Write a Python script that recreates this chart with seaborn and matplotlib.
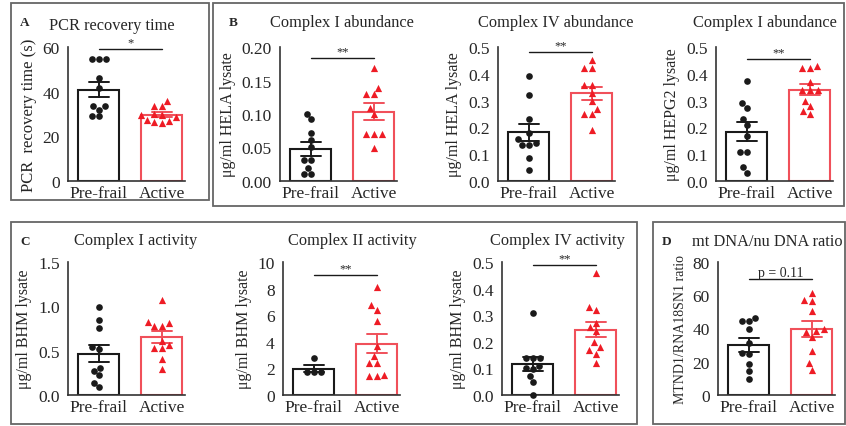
import numpy as np
import pandas as pd
import matplotlib
matplotlib.use("Agg")
import matplotlib.pyplot as plt
from matplotlib.patches import Rectangle
import seaborn as sns

# Values
groups = ["Pre-frail", "Active"]

a_pre = [54.7, 54.7, 54.7, 46.3, 41.8, 33.4, 33.4, 31.9, 28.9, 28.9]
a_act = [36.0, 33.5, 33.5, 30.0, 29.5, 29.5, 28.5, 27.5, 27.0, 26.0, 26.5]

b1_pre = [0.100, 0.092, 0.071, 0.061, 0.051, 0.031, 0.031, 0.020, 0.011, 0.011]
b1_act = [0.169, 0.139, 0.130, 0.130, 0.109, 0.100, 0.070, 0.070, 0.070, 0.050]

b2_pre = [0.39, 0.32, 0.23, 0.18, 0.155, 0.14, 0.135, 0.135, 0.085, 0.04]
b2_act = [0.45, 0.42, 0.42, 0.36, 0.36, 0.33, 0.30, 0.27, 0.25, 0.25, 0.19]

b3_pre = [0.372, 0.29, 0.272, 0.23, 0.209, 0.168, 0.108, 0.108, 0.052, 0.031]
b3_act = [0.43, 0.42, 0.42, 0.37, 0.34, 0.34, 0.34, 0.30, 0.28, 0.26, 0.25]

c1_pre = [0.99, 0.85, 0.76, 0.54, 0.52, 0.31, 0.27, 0.22, 0.135, 0.085]
c1_act = [1.07, 0.82, 0.81, 0.78, 0.78, 0.61, 0.56, 0.525, 0.525, 0.405, 0.29]

c2_pre = [2.75, 1.75, 1.7, 1.7]
c2_act = [8.1, 6.75, 6.4, 5.6, 3.7, 2.9, 2.4, 2.4, 1.5, 1.4, 1.4]

c3_pre = [0.31, 0.14, 0.14, 0.14, 0.11, 0.098, 0.10, 0.07, 0.048, 0.0]
c3_act = [0.46, 0.33, 0.32, 0.27, 0.256, 0.24, 0.20, 0.17, 0.18, 0.156, 0.12]

d_pre = [46.6, 44.6, 44.6, 39.6, 31.0, 25.5, 24.5, 18.6, 14.2, 9.6]
d_act = [61.2, 57.2, 56.6, 50.6, 39.6, 38.6, 38.0, 35.0, 26.6, 19.2, 15.2]

sns.set_style("white")
plt.rcParams["font.family"] = ["Liberation Serif", "DejaVu Serif"]
plt.rcParams["axes.linewidth"] = 1.2

W, H = 846, 427
fig = plt.figure(figsize=(W / 100, H / 100), dpi=100)

black = "#1a1a1a"
red = "#ee1c25"
bar_red = "#f0505a"


def px_axes(left, top, width=117, height=134):
    return fig.add_axes([left / W, 1 - (top + height) / H, width / W, height / H])


def panel(ax, pre, act, ticks, fmt, ylabel, sig_y=None, sig_txt=None, ylabel_size=11.5):
    df = pd.DataFrame({
        "group": ["Pre-frail"] * len(pre) + ["Active"] * len(act),
        "value": list(pre) + list(act),
    })
    sns.barplot(data=df, x="group", y="value", hue="group", order=groups,
                palette={"Pre-frail": black, "Active": bar_red}, fill=False,
                errorbar="se", capsize=0.32, width=0.65, linewidth=1.5,
                err_kws={"linewidth": 1.4}, legend=False, ax=ax)
    sns.swarmplot(data=df[df.group == "Pre-frail"], x="group", y="value", order=groups,
                  color=black, marker="o", size=4.8, ax=ax, clip_on=False, zorder=3)
    sns.swarmplot(data=df[df.group == "Active"], x="group", y="value", order=groups,
                  color=red, marker="^", size=5.2, ax=ax, clip_on=False, zorder=3)
    ax.set_xlim(-0.49, 1.365)
    ax.set_ylim(ticks[0], ticks[-1])
    ax.set_yticks(ticks)
    ax.set_yticklabels([fmt.format(t) for t in ticks], fontsize=12.5)
    ax.set_xticks([0, 1])
    ax.set_xticklabels(groups, fontsize=12.5)
    ax.set_xlabel("")
    ax.set_ylabel(ylabel, fontsize=ylabel_size, labelpad=4)
    sns.despine(ax=ax)
    for s in ("left", "bottom"):
        ax.spines[s].set_color("#333333")
    ax.tick_params(axis="y", direction="out", length=4, width=1.1, color="#333333", pad=2)
    ax.tick_params(axis="x", length=0, pad=3)
    if sig_y is not None:
        ax.plot([0, 1], [sig_y, sig_y], color=black, lw=1.0, clip_on=False)
        ax.annotate(sig_txt, xy=(0.5, sig_y), xytext=(0, 0.5), textcoords="offset points",
                    ha="center", va="bottom", fontsize=9 if "*" in sig_txt else 10,
                    annotation_clip=False)


# top row
axA = px_axes(68, 48)
panel(axA, a_pre, a_act, [0, 20, 40, 60], "{:.0f}", "PCR  recovery time (s)", 59, "*",
      ylabel_size=12)
axB1 = px_axes(280, 48)
panel(axB1, b1_pre, b1_act, [0, 0.05, 0.10, 0.15, 0.20], "{:.2f}",
      "μg/ml HELA lysate", 0.183, "**")
axB2 = px_axes(498, 48)
panel(axB2, b2_pre, b2_act, [0, 0.1, 0.2, 0.3, 0.4, 0.5], "{:.1f}",
      "μg/ml HELA lysate", 0.481, "**")
axB3 = px_axes(716, 48)
panel(axB3, b3_pre, b3_act, [0, 0.1, 0.2, 0.3, 0.4, 0.5], "{:.1f}",
      "μg/ml HEPG2 lysate", 0.456, "**")

# bottom row
axC1 = px_axes(68, 263, height=133)
panel(axC1, c1_pre, c1_act, [0, 0.5, 1.0, 1.5], "{:.1f}", "μg/ml BHM lysate")
axC2 = px_axes(283, 263, height=133)
panel(axC2, c2_pre, c2_act, [0, 2, 4, 6, 8, 10], "{:.0f}", "μg/ml BHM lysate", 9.0, "**")
axC3 = px_axes(502, 263, height=133)
panel(axC3, c3_pre, c3_act, [0, 0.1, 0.2, 0.3, 0.4, 0.5], "{:.1f}",
      "μg/ml BHM lysate", 0.4875, "**")
axD = px_axes(718, 263, height=133)
panel(axD, d_pre, d_act, [0, 20, 40, 60, 80], "{:.0f}", "MTND1/RNA18SN1 ratio",
      69.6, "p = 0.11", ylabel_size=10)

# titles and panel letters
titles = [
    ("PCR recovery time", 112, 26), ("Complex I abundance", 342, 23),
    ("Complex IV abundance", 556, 23), ("Complex I abundance", 765, 23),
    ("Complex I activity", 136, 241), ("Complex II activity", 352, 241),
    ("Complex IV activity", 557, 241), ("mt DNA/nu DNA ratio", 767, 242),
]
for txt, x, y in titles:
    fig.text(x / W, 1 - y / H, txt, ha="center", va="center", fontsize=11.8)

letters = [("A", 25, 23), ("B", 233, 23), ("C", 25, 242), ("D", 667, 242)]
for txt, x, y in letters:
    fig.text(x / W, 1 - y / H, txt, ha="center", va="center", fontsize=9.5,
             fontweight="bold")

# panel frames
boxes = [(11, 4, 209, 201), (213, 4, 844, 207), (11, 223, 637, 425), (653, 223, 845, 425)]
for x0, y0, x1, y1 in boxes:
    fig.patches.append(Rectangle((x0 / W, 1 - y1 / H), (x1 - x0) / W, (y1 - y0) / H,
                                 transform=fig.transFigure, fill=False,
                                 edgecolor="#666666", linewidth=1.3))

fig.savefig("out.png", dpi=100)
